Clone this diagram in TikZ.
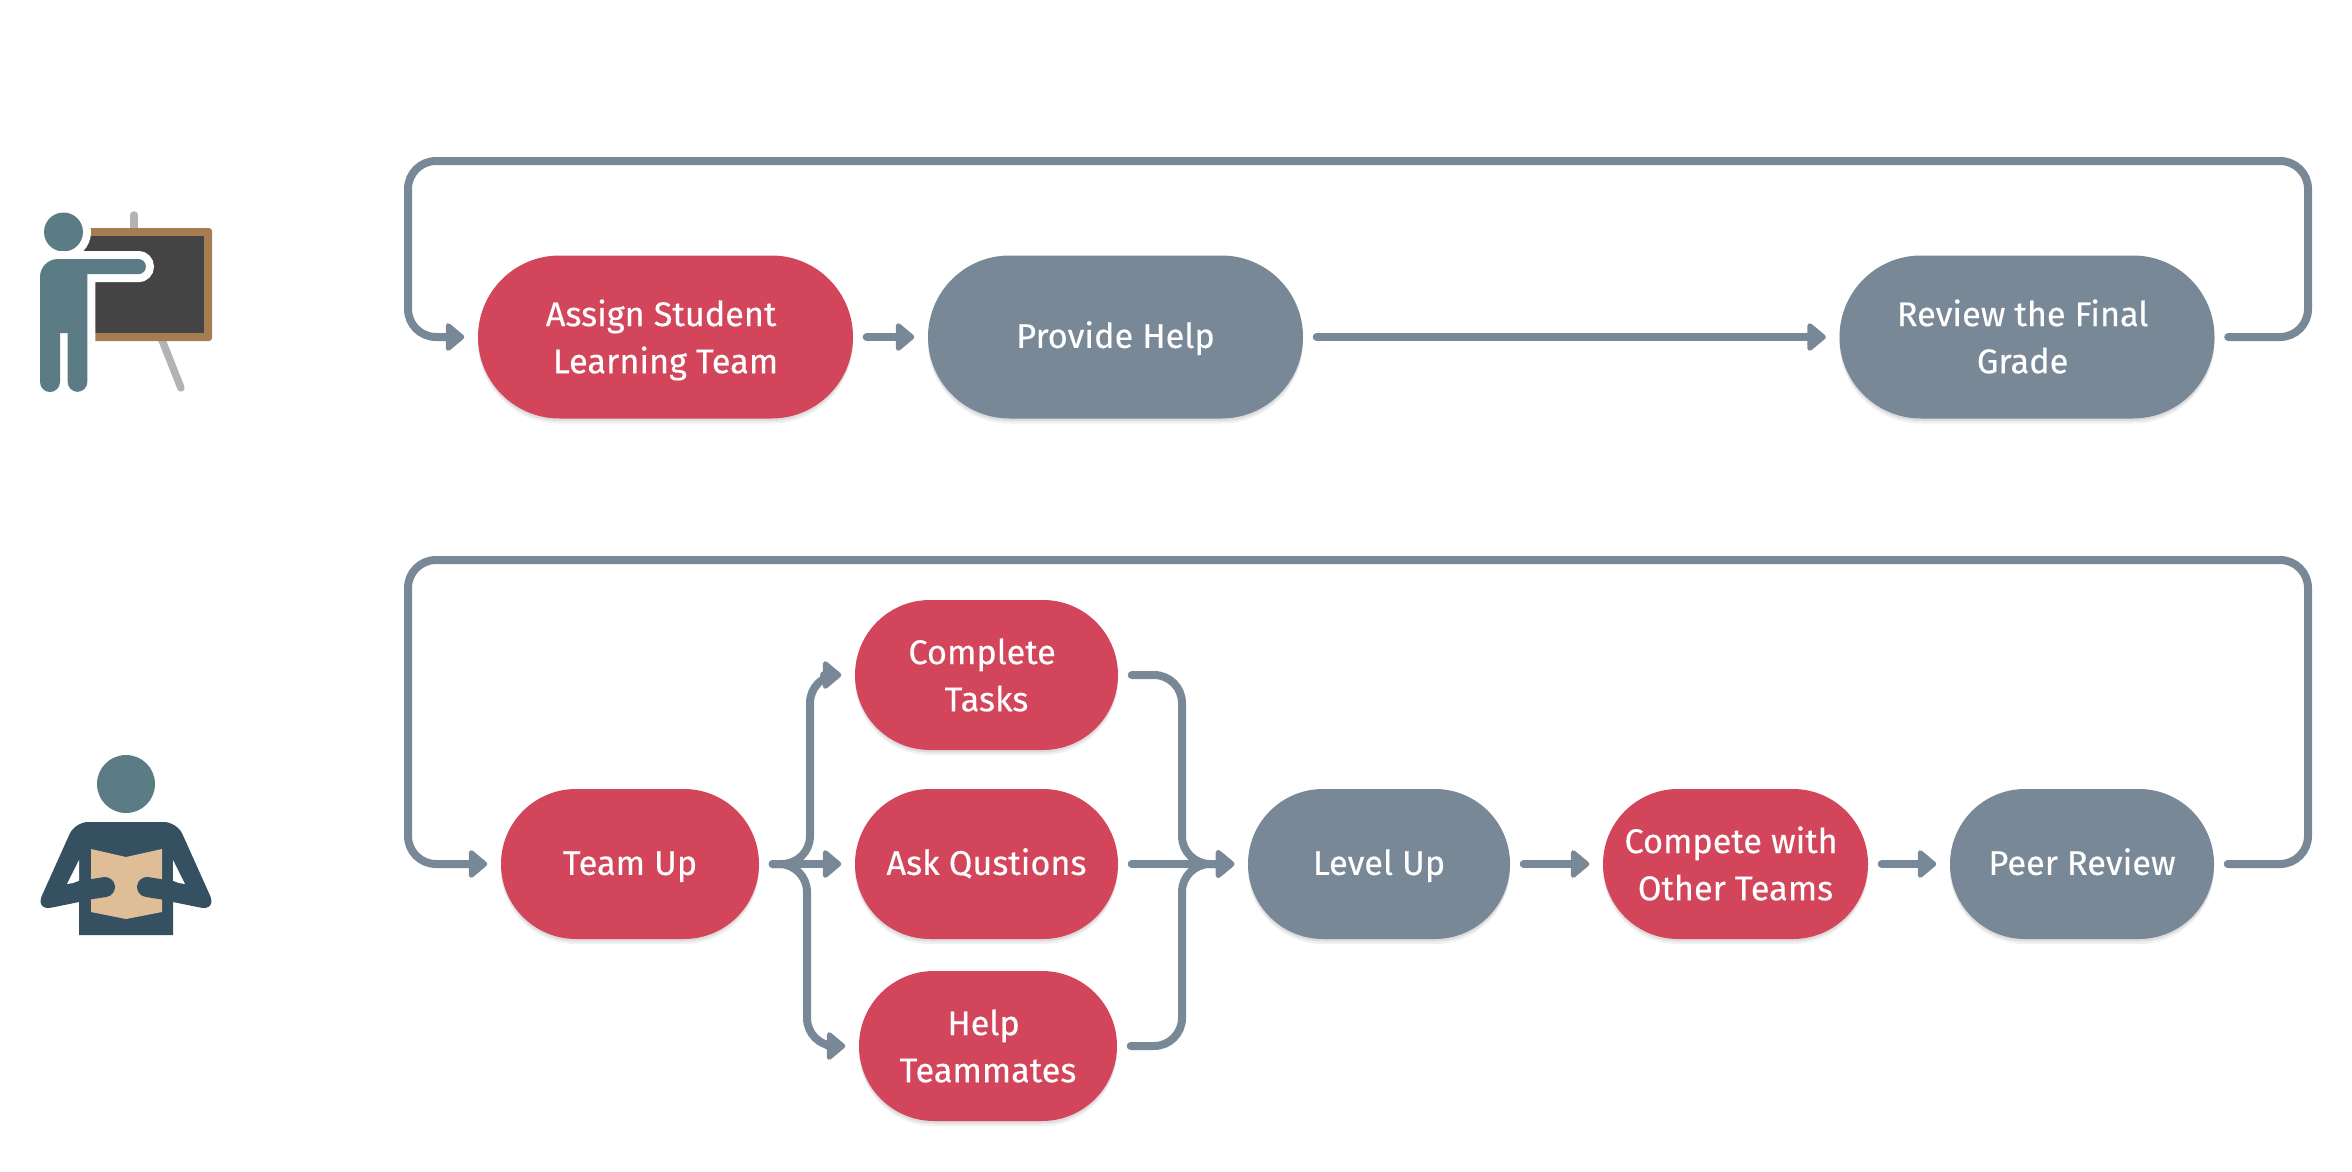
\documentclass[tikz,border=0pt]{standalone}
\usepackage{fontspec}
\setmainfont[FakeBold=0.3]{Fira Sans}
\usetikzlibrary{arrows.meta, shapes.misc, shadows}
\definecolor{boxred}{HTML}{D3455B}
\definecolor{boxgray}{HTML}{798897}
\definecolor{skin}{HTML}{5B7B85}
\definecolor{shirt}{HTML}{345061}
\definecolor{page}{HTML}{DFBD96}
\definecolor{slate}{HTML}{444444}
\definecolor{wood}{HTML}{A67C52}
\definecolor{stand}{HTML}{B3B3B3}
\newcommand{\trailgap}{\kern2.5pt}
\tikzstyle{pill} = [rounded rectangle, minimum height=1.5cm, inner sep=0pt, text=white, align=center, font=\fontsize{9.75}{13.4}\selectfont, drop shadow={shadow xshift=0cm, shadow yshift=-0.05cm, opacity=0.06, fill=black}, drop shadow={shadow xshift=0cm, shadow yshift=-0.025cm, opacity=0.08, fill=black}]
\tikzstyle{oneline} = [text height=7.2pt, text depth=1pt]
\tikzstyle{twoline} = [text height=22.6pt, text depth=2pt]
\tikzstyle{redbox} = [pill, fill=boxred]
\tikzstyle{graybox} = [pill, fill=boxgray]
\tikzstyle{arrow} = [draw=boxgray, line width=0.8mm, line cap=round, rounded corners=2.8mm, shorten >=1.3mm, shorten <=1.3mm, -{Triangle[length=2mm, width=3.2mm, round]}]

\begin{document}
\begin{tikzpicture}[node distance=2cm]
	\useasboundingbox (0,0) rectangle (23.52,-11.72);
	% Teacher row
	\node(assign)[redbox, twoline, minimum width=3.75cm, minimum height=1.63cm] at (6.655,-3.37) {Assign Student\trailgap\\Learning Team};
	\node(provide)[graybox, oneline, right of=assign, node distance=4.5cm, minimum width=3.75cm, minimum height=1.63cm]{Provide Help};
	\node(review)[graybox, twoline, right of=provide, node distance=9.115cm, minimum width=3.75cm, minimum height=1.63cm]{Review the Final\trailgap\\Grade\trailgap};
	\coordinate(loopa) at (23.08,-1.61);
	\coordinate(loopb) at (4.08,-1.61);
	\draw [arrow] (assign.east) -- (provide.west);
	\draw [arrow] (provide.east) -- (review.west);
	\draw [arrow] (review.east) -- (loopa |- review.east) -- (loopa) -- (loopb) -- (loopb |- assign.west) -- (assign.west);
	% Student row
	\node(teamup)[redbox, oneline, minimum width=2.58cm] at (6.30,-8.64) {Team Up};
	\node(ask)[redbox, oneline, right of=teamup, node distance=3.565cm, minimum width=2.63cm]{Ask Qustions};
	\node(tasks)[redbox, twoline, above of=ask, node distance=1.89cm, minimum width=2.63cm]{Complete\trailgap\\Tasks};
	\node(mates)[redbox, twoline, below of=ask, node distance=1.82cm, xshift=0.015cm, minimum width=2.58cm]{Help\trailgap\\Teammates};
	\node(level)[graybox, oneline, right of=ask, node distance=3.925cm, minimum width=2.62cm]{Level Up};
	\node(compete)[redbox, twoline, right of=level, node distance=3.565cm, minimum width=2.65cm]{Compete with\trailgap\\Other Teams};
	\node(peer)[graybox, oneline, right of=compete, node distance=3.465cm, minimum width=2.64cm]{Peer Review};
	\coordinate(loopc) at (23.08,-5.60);
	\coordinate(loopd) at (4.08,-5.60);
	\coordinate(splitup) at (8.10,-8.64);
	\coordinate(splitdown) at (8.07,-8.64);
	\coordinate(merge) at (11.82,-8.64);
	\draw [arrow] (teamup.east) -- (ask.west);
	\draw [arrow] (teamup.east) -- (splitup) -- (splitup |- tasks.west) -- (tasks.west);
	\draw [arrow] (teamup.east) -- (splitdown) -- (splitdown |- mates.west) -- (mates.west);
	\draw [arrow] (ask.east) -- (level.west);
	\draw [arrow] (tasks.east) -- (merge |- tasks.east) -- (merge) -- (level.west);
	\draw [arrow] (mates.east) -- (merge |- mates.east) -- (merge) -- (level.west);
	\draw [arrow] (level.east) -- (compete.west);
	\draw [arrow] (compete.east) -- (peer.west);
	\draw [arrow] (peer.east) -- (loopc |- peer.east) -- (loopc) -- (loopd) -- (loopd |- teamup.west) -- (teamup.west);
	% Teacher icon
	\begin{scope}[x=0.1mm, y=-0.1mm]
		\draw[stand, line width=0.75mm, line cap=round] (134,215) -- (134,240);
		\draw[stand, line width=0.75mm, line cap=round] (160,335) -- (181,388);
		\fill[wood, rounded corners=0.3mm] (70,228) rectangle (212,341);
		\fill[slate] (70,236) rectangle (204,333);
		\fill[skin, preaction={draw=white, line width=1.6mm}] (63.5,232) circle (19.5);
		\fill[skin, line join=round, preaction={draw=white, line width=1.6mm}] (40,277) arc[start angle=180, end angle=270, radius=18] -- (138.3,259) arc[start angle=-90, end angle=90, radius=7.6] -- (87.3,274.2) -- (87.3,382) arc[start angle=0, end angle=180, radius=9.8] -- (67.7,333) -- (60,333) -- (60,382) arc[start angle=0, end angle=180, radius=10] -- cycle;
	\end{scope}
	% Student icon
	\begin{scope}[x=0.1mm, y=-0.1mm]
		\fill[skin] (126,784) circle (29);
		\fill[shirt] (79,935) -- (79,902) [rounded corners=1.7mm] -- (35,911) [rounded corners=1.3mm] -- (75,822) -- (177,822) [rounded corners=1.7mm] -- (217,911) [sharp corners] -- (173,902) -- (173,935) -- cycle;
		\fill[white] (79,860) -- (67,884) -- (79,882) -- cycle;
		\fill[white] (173,860) -- (185,884) -- (173,882) -- cycle;
		\fill[page] (91,849) -- (126,857) -- (162,849) -- (162,912) -- (126,919) -- (91,912) -- cycle;
		\draw[shirt, line width=2mm, line cap=round] (80,891) -- (105,887);
		\draw[shirt, line width=2mm, line cap=round] (172,891) -- (147,887);
	\end{scope}
\end{tikzpicture}
\end{document}
